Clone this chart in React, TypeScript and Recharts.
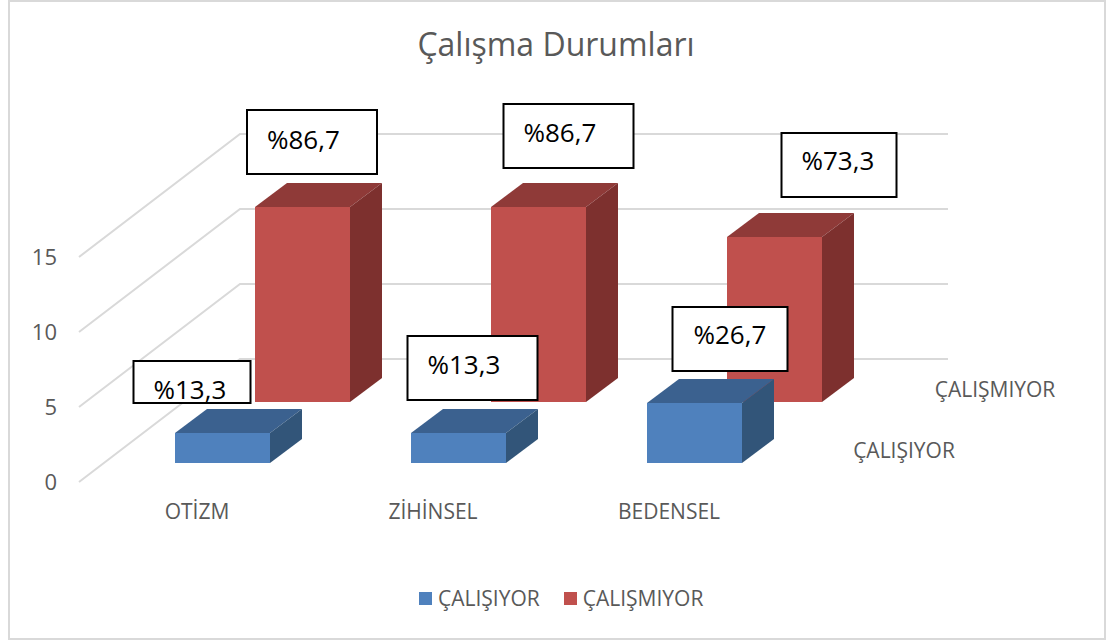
import { BarChart, Bar, XAxis, YAxis, CartesianGrid, Legend, LabelList } from 'recharts';

const categories = ['OTİZM', 'ZİHİNSEL', 'BEDENSEL'];
const calisiyor = [2, 2, 4];
const calismiyor = [13, 13, 11];
const calisiyorLabels = ['%13,3', '%13,3', '%26,7'];
const calismiyorLabels = ['%86,7', '%86,7', '%73,3'];
const yTicks = [0, 5, 10, 15];

const chartData = categories.map((name, i) => ({
  name,
  calisiyor: calisiyor[i],
  calismiyor: calismiyor[i],
  calisiyorLabel: calisiyorLabels[i],
  calismiyorLabel: calismiyorLabels[i],
}));

const FONT = '"Open Sans", sans-serif';
const GREY = '#595959';

// 3D projection: how far each row sits behind the front of the floor
const BLUE_ROW = { dx: 25, dy: -19 };
const RED_ROW = { dx: 105, dy: -80 };
const BACK_WALL = { dx: 161, dy: -123 };
const BAR_DEPTH = { dx: 32, dy: -24 };

// callout boxes, relative to the front top left corner of their bar
const blueBoxes = [
  { dx: -41.5, dy: -72, w: 117, h: 42, tx: 20, ty: 38 },
  { dx: -3.5, dy: -97, w: 130, h: 64, tx: 20, ty: 38 },
  { dx: 25.5, dy: -96, w: 115, h: 64, tx: 21, ty: 37 },
];
const redBoxes = [
  { dx: -8, dy: -97, w: 130, h: 64, tx: 20, ty: 39 },
  { dx: 12.5, dy: -103, w: 130, h: 64, tx: 20, ty: 38 },
  { dx: 54.5, dy: -104, w: 115, h: 64, tx: 20, ty: 37 },
];

function Box3D(props: any) {
  const { x, y, width, height, row, front, top, side } = props;
  const l = x + row.dx;
  const t = y + row.dy;
  const r = l + width;
  const b = t + height;
  const { dx, dy } = BAR_DEPTH;
  return (
    <g>
      <path d={`M${l},${t}L${l + dx},${t + dy}L${r + dx},${t + dy}L${r},${t}Z`} fill={top} />
      <path d={`M${r},${t}L${r + dx},${t + dy}L${r + dx},${b + dy}L${r},${b}Z`} fill={side} />
      <rect x={l} y={t} width={width} height={height} fill={front} />
    </g>
  );
}

function Callout(props: any) {
  const { viewBox, value, index, row, boxes } = props;
  const box = boxes[index];
  const left = viewBox.x + row.dx + box.dx;
  const top = viewBox.y + row.dy + box.dy;
  return (
    <g>
      <rect x={left} y={top} width={box.w} height={box.h} fill="#fff" stroke="#000" strokeWidth={2} />
      <text x={left + box.tx} y={top + box.ty} fontFamily={FONT} fontSize={26} fill="#000">
        {value}
      </text>
    </g>
  );
}

function WallLine(props: any) {
  const { x1, x2, y1 } = props;
  return (
    <path
      d={`M${x1},${y1}L${x1 + BACK_WALL.dx},${y1 + BACK_WALL.dy}L${x2 + BACK_WALL.dx},${y1 + BACK_WALL.dy}`}
      fill="none"
      stroke="#d9d9d9"
      strokeWidth={2}
    />
  );
}

function LegendRow({ payload }: any) {
  return (
    <div style={{ display: 'flex', gap: 24, fontFamily: FONT, fontSize: 21, color: GREY, alignItems: 'center' }}>
      {(payload ?? []).map((item: any) => (
        <span key={item.value} style={{ display: 'flex', alignItems: 'center', gap: 6 }}>
          <span style={{ width: 13, height: 13, background: item.color, display: 'inline-block' }} />
          {item.value}
        </span>
      ))}
    </div>
  );
}

export default function App() {
  return (
    <div style={{ position: 'absolute', left: 0, top: 0, width: 1106, height: 640, background: '#fff' }}>
      <div
        style={{
          position: 'absolute',
          left: 8,
          top: 0,
          width: 1094,
          height: 636,
          border: '2px solid #d9d9d9',
        }}
      />
      <BarChart
        width={1106}
        height={640}
        data={chartData}
        margin={{ top: 257, right: 319, bottom: 0, left: 0 }}
        barSize={95}
        barGap={-95}
      >
        <text x={556} y={56} textAnchor="middle" fontFamily={FONT} fontSize={32} fill={GREY}>
          Çalışma Durumları
        </text>
        <CartesianGrid horizontal={WallLine} vertical={false} />
        <XAxis
          dataKey="name"
          axisLine={false}
          tickLine={false}
          height={130}
          tickMargin={16}
          tick={{ fontFamily: FONT, fontSize: 21, fill: GREY }}
        />
        <YAxis
          domain={[0, 15]}
          ticks={yTicks}
          width={79}
          axisLine={false}
          tickLine={false}
          tickMargin={16}
          tick={{ fontFamily: FONT, fontSize: 22, fill: GREY }}
        />
        <Bar
          dataKey="calismiyor"
          name="ÇALIŞMIYOR"
          fill="#c0504d"
          isAnimationActive={false}
          shape={(p: any) => <Box3D {...p} row={RED_ROW} front="#c0504d" top="#8f3a38" side="#7d302e" />}
        >
          <LabelList dataKey="calismiyorLabel" content={(p: any) => <Callout {...p} row={RED_ROW} boxes={redBoxes} />} />
        </Bar>
        <Bar
          dataKey="calisiyor"
          name="ÇALIŞIYOR"
          fill="#4f81bd"
          isAnimationActive={false}
          shape={(p: any) => <Box3D {...p} row={BLUE_ROW} front="#4f81bd" top="#3b618f" side="#325579" />}
        >
          <LabelList dataKey="calisiyorLabel" content={(p: any) => <Callout {...p} row={BLUE_ROW} boxes={blueBoxes} />} />
        </Bar>
        <text x={995} y={397} textAnchor="middle" fontFamily={FONT} fontSize={21} fill={GREY}>
          ÇALIŞMIYOR
        </text>
        <text x={904} y={458} textAnchor="middle" fontFamily={FONT} fontSize={21} fill={GREY}>
          ÇALIŞIYOR
        </text>
        <Legend
          content={<LegendRow />}
          wrapperStyle={{ position: 'absolute', left: 419, top: 584, width: 'auto' }}
        />
      </BarChart>
    </div>
  );
}
